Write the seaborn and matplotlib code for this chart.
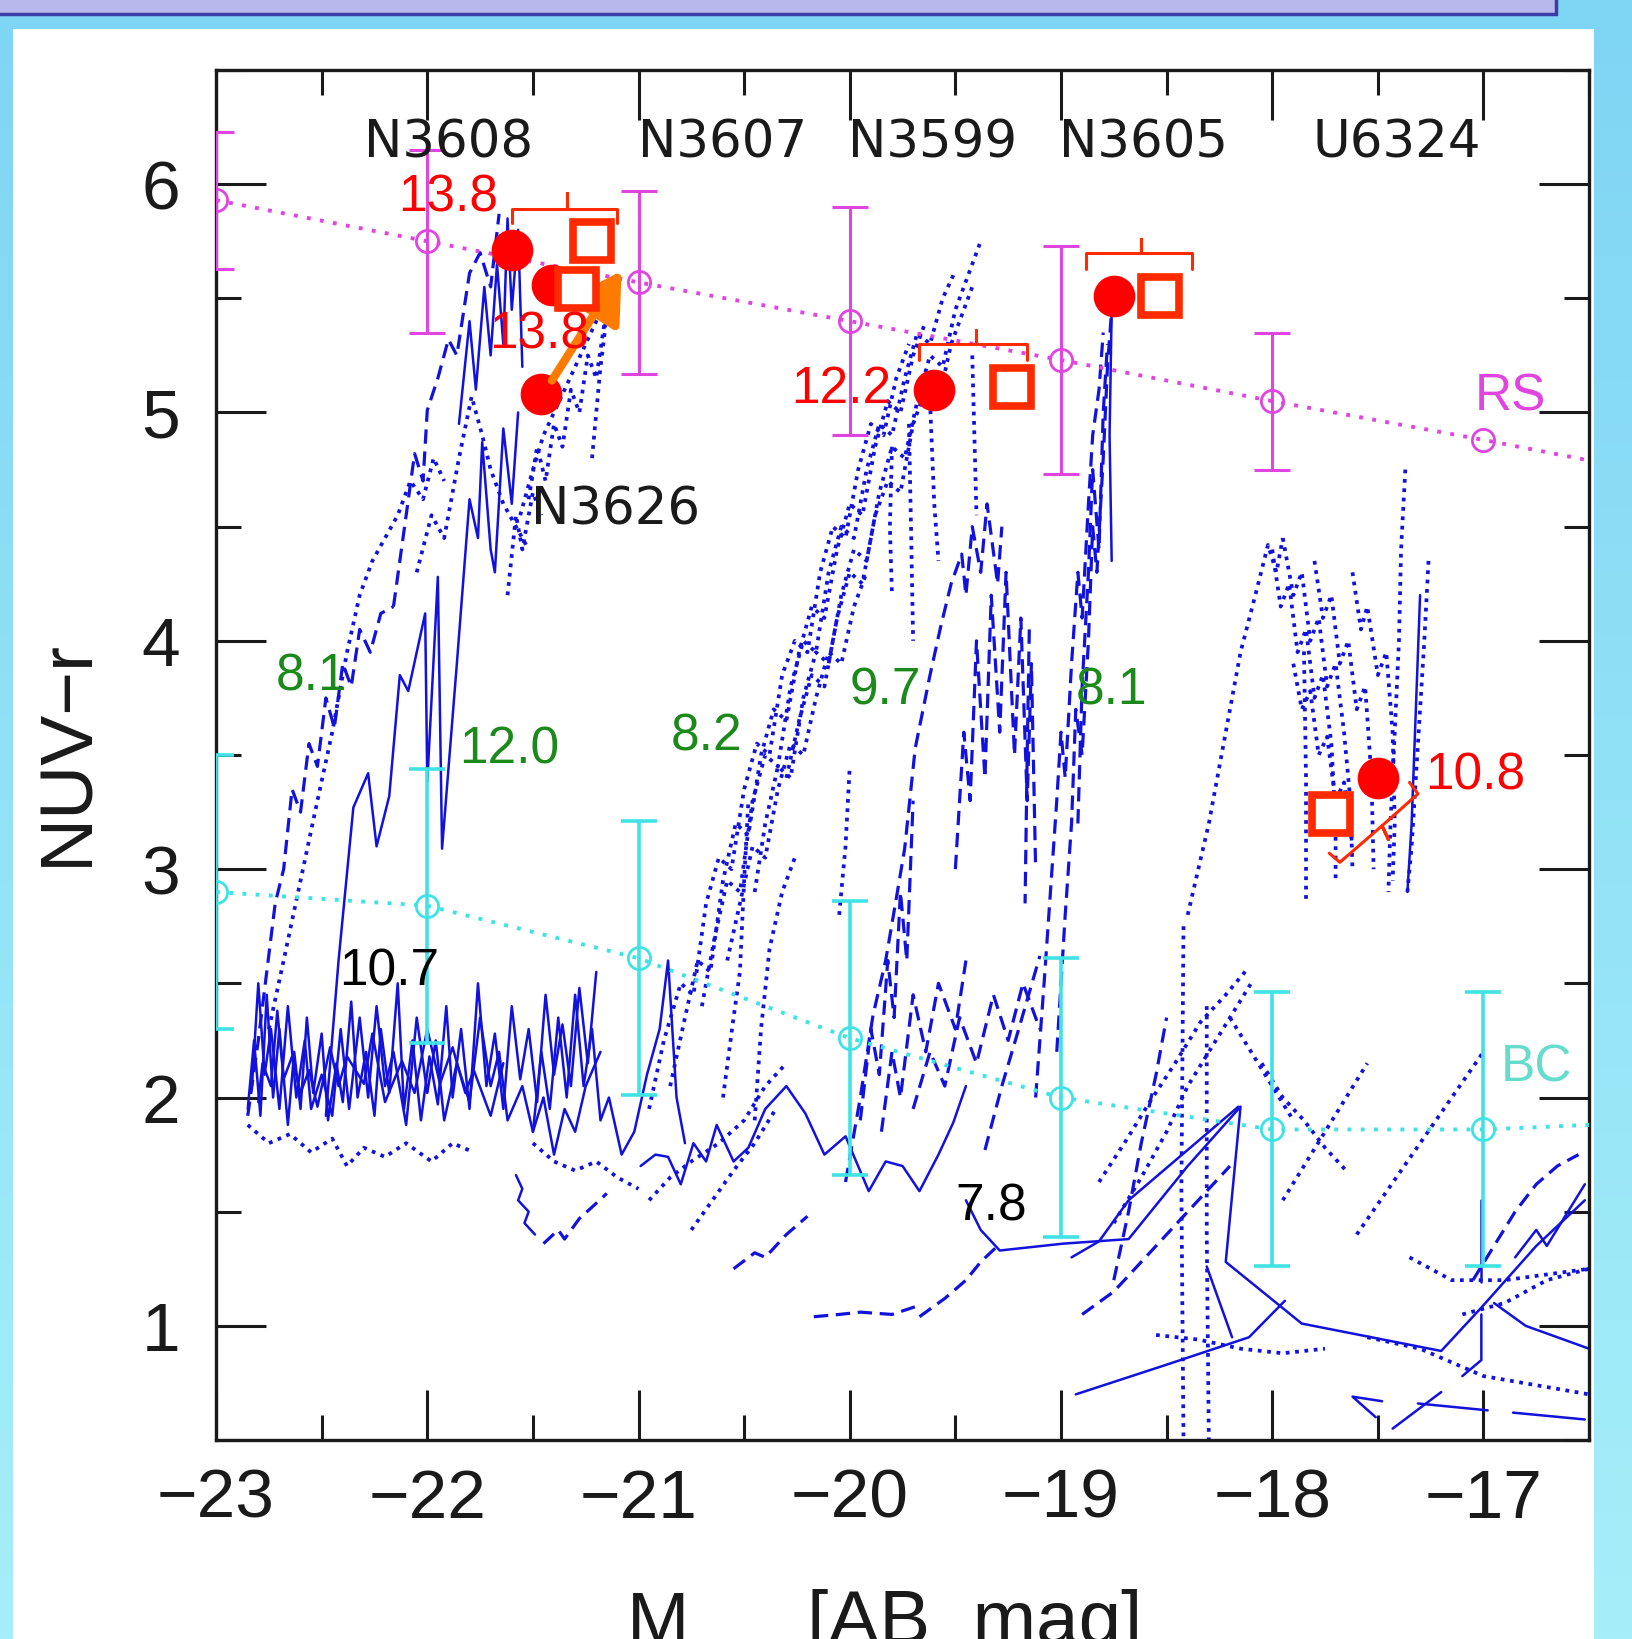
import numpy as np
import pandas as pd
import matplotlib
matplotlib.use("Agg")
import matplotlib.pyplot as plt
import seaborn as sns
from matplotlib.patches import Rectangle

sns.set_theme(style="white")
plt.rcParams['font.family'] = ['Liberation Sans', 'DejaVu Sans']
plt.rcParams['axes.unicode_minus'] = True

BLUE = "#1212dc"
MAGENTA = "#e045e0"
CYAN = "#3fe3e6"
BC_TXT = "#66ddcc"
RED = "#ff0000"
SQ_RED = "#ff2a00"
ORANGE = "#ff7b00"
GREEN = "#1b8a1b"
INK = "#1a1a1a"

# ── reference sequences (RS / BC) ───────────────────────────────────────────
seq_x = [-23, -22, -21, -20, -19, -18, -17]
rs_y = [5.93, 5.75, 5.57, 5.40, 5.23, 5.05, 4.88]
rs_err = [0.30, 0.40, 0.40, 0.50, 0.50, 0.30, 0.0]
rs_edge = (-16.5, 4.79)
bc_y = [2.90, 2.84, 2.61, 2.26, 2.00, 1.86, 1.86]
bc_err = [0.60, 0.60, 0.60, 0.60, 0.61, 0.60, 0.60]
bc_edge = (-16.5, 1.88)

# ── galaxies: red dots (models) and open squares (observed) ────────────────
dot_x = [-21.60, -21.41, -21.46, -19.60, -18.75, -17.50]
dot_y = [5.71, 5.56, 5.08, 5.10, 5.51, 3.40]
sq_x = [-21.22, -21.29, -19.23, -18.53, -17.72]
sq_y = [5.75, 5.54, 5.11, 5.51, 3.24]

names = ["N3608", "N3607", "N3599", "N3605", "U6324"]
names_x = [-21.90, -20.60, -19.61, -18.61, -17.41]
names_y = 6.18

red_labels = ["13.8", "13.8", "12.2", "10.8"]
red_lx = [-21.90, -21.47, -20.04, -17.04]
red_ly = [5.94, 5.34, 5.10, 3.41]
green_labels = ["8.1", "12.0", "8.2", "9.7", "8.1"]
green_lx = [-22.55, -21.61, -20.68, -19.83, -18.76]
green_ly = [3.84, 3.52, 3.58, 3.78, 3.78]
black_labels = ["10.7", "7.8"]
black_lx = [-22.18, -19.33]
black_ly = [2.55, 1.52]

# brackets (red)
bracket_1 = [(-21.60, 5.83), (-21.60, 5.89), (-21.34, 5.89), (-21.34, 5.96), (-21.34, 5.89), (-21.10, 5.89), (-21.10, 5.83)]
bracket_2 = [(-19.67, 5.23), (-19.67, 5.30), (-19.40, 5.30), (-19.40, 5.36), (-19.40, 5.30), (-19.16, 5.30), (-19.16, 5.23)]
bracket_3 = [(-18.88, 5.63), (-18.88, 5.70), (-18.62, 5.70), (-18.62, 5.76), (-18.62, 5.70), (-18.38, 5.70), (-18.38, 5.63)]
bracket_4 = [(-17.73, 3.07), (-17.68, 3.03), (-17.48, 3.19), (-17.45, 3.13), (-17.48, 3.19), (-17.31, 3.33), (-17.35, 3.38)]
arrow_tail = (-21.41, 5.14)
arrow_head = (-21.08, 5.62)

# ── model tracks, solid ─────────────────────────────────────────────────────
s_n3608_rise = [(-22.48, 1.92), (-22.42, 2.60), (-22.35, 3.27), (-22.28, 3.42), (-22.24, 3.10), (-22.18, 3.32),
                (-22.13, 3.85), (-22.09, 3.78), (-22.01, 4.12), (-22.00, 3.38), (-21.95, 4.28), (-21.93, 3.09),
                (-21.86, 3.90), (-21.80, 4.62), (-21.76, 4.45), (-21.74, 4.87), (-21.70, 4.40), (-21.68, 4.30),
                (-21.64, 4.93), (-21.60, 4.60), (-21.57, 5.00)]
s_n3608_top = [(-21.85, 4.95), (-21.80, 5.40), (-21.77, 5.10), (-21.73, 5.55), (-21.70, 5.25), (-21.67, 5.65),
               (-21.64, 5.30), (-21.62, 5.85), (-21.60, 5.45), (-21.57, 5.80), (-21.55, 5.20)]
s_bc_a = [(-22.85, 1.95), (-22.82, 2.25), (-22.79, 1.92), (-22.76, 2.45), (-22.73, 2.00), (-22.70, 2.30),
          (-22.66, 1.88), (-22.63, 2.20), (-22.60, 1.95), (-22.57, 2.35), (-22.54, 2.02), (-22.50, 2.28),
          (-22.47, 1.90), (-22.43, 2.15), (-22.40, 1.98), (-22.36, 2.42), (-22.33, 2.00), (-22.29, 2.20),
          (-22.25, 1.92), (-22.22, 2.30), (-22.18, 2.02), (-22.14, 2.50), (-22.11, 1.95), (-22.07, 2.25),
          (-22.03, 1.90), (-21.99, 2.18), (-21.95, 1.97), (-21.91, 2.40), (-21.88, 2.00), (-21.84, 2.30),
          (-21.80, 1.95), (-21.76, 2.50), (-21.72, 2.05), (-21.68, 2.28), (-21.64, 1.95), (-21.60, 2.40),
          (-21.56, 2.08), (-21.52, 2.30), (-21.48, 1.98), (-21.44, 2.45), (-21.40, 2.10), (-21.36, 2.32),
          (-21.32, 2.05), (-21.28, 2.48), (-21.24, 2.15), (-21.20, 2.55)]
s_bc_b = [(-22.83, 2.05), (-22.80, 2.50), (-22.77, 2.10), (-22.74, 2.30), (-22.70, 1.95), (-22.66, 2.40),
          (-22.62, 2.00), (-22.58, 2.25), (-22.55, 1.95), (-22.50, 2.10), (-22.45, 1.92), (-22.41, 2.30),
          (-22.37, 1.95), (-22.32, 2.35), (-22.28, 2.00), (-22.24, 2.40), (-22.20, 2.05), (-22.16, 2.20),
          (-22.10, 1.88), (-22.05, 2.35), (-22.00, 2.02), (-21.96, 2.25), (-21.92, 1.90), (-21.86, 2.15),
          (-21.80, 1.98), (-21.75, 2.35), (-21.70, 2.05), (-21.66, 2.20), (-21.62, 1.90), (-21.55, 2.05),
          (-21.50, 1.85), (-21.45, 2.00), (-21.40, 1.75), (-21.35, 1.95), (-21.30, 1.85), (-21.25, 2.05),
          (-21.18, 2.20)]
s_bc_c = [(-21.50, 1.85), (-21.46, 2.20), (-21.42, 1.95), (-21.38, 2.35), (-21.34, 2.00), (-21.30, 2.45),
          (-21.26, 2.05), (-21.22, 2.30), (-21.18, 1.90), (-21.14, 2.00), (-21.08, 1.75), (-21.02, 1.85),
          (-20.96, 2.10), (-20.90, 2.30), (-20.86, 2.60), (-20.82, 2.00), (-20.78, 1.80)]
s_bc_d = [(-22.80, 1.98), (-22.78, 2.15), (-22.74, 2.05), (-22.71, 2.38), (-22.68, 2.08), (-22.64, 2.18),
          (-22.60, 2.02), (-22.56, 2.12), (-22.52, 1.96), (-22.46, 2.22), (-22.42, 2.05), (-22.38, 2.18),
          (-22.30, 2.06), (-22.26, 2.28), (-22.20, 1.98), (-22.12, 2.16), (-22.06, 2.02), (-22.00, 2.30),
          (-21.94, 2.06), (-21.88, 2.22), (-21.82, 2.02), (-21.78, 2.12), (-21.70, 1.92), (-21.64, 2.15)]
s_squiggle = [(-21.58, 1.66), (-21.55, 1.60), (-21.57, 1.55), (-21.52, 1.50), (-21.54, 1.45), (-21.49, 1.40)]
s_mid_low = [(-20.99, 1.70), (-20.92, 1.75), (-20.86, 1.74), (-20.80, 1.62), (-20.74, 1.80), (-20.68, 1.72),
             (-20.63, 1.88), (-20.55, 1.72), (-20.48, 1.78), (-20.40, 1.95), (-20.30, 2.05), (-20.21, 1.93),
             (-20.12, 1.75), (-20.02, 1.83), (-19.91, 1.59), (-19.83, 1.72), (-19.75, 1.70), (-19.67, 1.59),
             (-19.58, 1.75), (-19.51, 1.89), (-19.45, 2.05)]
s_right_low = [(-19.45, 1.55), (-19.38, 1.42), (-19.29, 1.33), (-18.99, 1.36), (-18.68, 1.38), (-18.40, 1.70),
               (-18.15, 1.96), (-18.22, 1.28), (-17.86, 1.01), (-17.20, 0.89), (-17.01, 1.08), (-16.75, 1.35),
               (-16.52, 1.55)]
s_long_low = [(-18.93, 0.70), (-18.50, 0.83), (-18.11, 0.95), (-17.94, 1.11)]
s_diag = [(-18.95, 1.30), (-18.82, 1.37), (-18.68, 1.55), (-18.16, 1.96)]
s_short = [(-18.31, 1.26), (-18.19, 0.95)]
s_vert = [(-17.01, 1.55), (-17.01, 1.19)]
s_vert2 = [(-17.01, 1.05), (-17.01, 0.85), (-17.10, 0.78)]
s_angle = [(-17.48, 0.67), (-17.62, 0.69), (-17.51, 0.60)]
s_cross = [(-17.43, 0.55), (-17.20, 0.71)]
s_flat = [(-17.31, 0.66), (-16.98, 0.63)]
s_flat2 = [(-16.86, 0.62), (-16.52, 0.59)]
s_n3605 = [(-18.76, 4.35), (-18.77, 4.90), (-18.76, 5.45)]
s_u6324 = [(-17.30, 4.20), (-17.32, 3.70), (-17.34, 3.20), (-17.36, 2.90)]
s_edge_a = [(-16.85, 1.30), (-16.75, 1.42), (-16.70, 1.35), (-16.60, 1.50), (-16.52, 1.62)]
s_edge_b = [(-16.95, 1.10), (-16.80, 1.00), (-16.65, 0.95), (-16.50, 0.90)]

# ── model tracks, dashed ────────────────────────────────────────────────────
d_n3608_low = [(-22.85, 1.92), (-22.80, 2.25), (-22.76, 2.55), (-22.72, 2.85), (-22.68, 3.00), (-22.64, 3.35),
               (-22.60, 3.25), (-22.56, 3.55), (-22.52, 3.45), (-22.48, 3.75), (-22.44, 3.62), (-22.40, 3.90),
               (-22.36, 3.80), (-22.32, 4.05), (-22.27, 3.95), (-22.22, 4.12), (-22.16, 4.15)]
d_n3608_high = [(-22.16, 4.15), (-22.10, 4.55), (-22.06, 4.82), (-22.02, 4.70), (-22.00, 5.01), (-21.95, 5.15),
                (-21.90, 5.32), (-21.86, 5.25), (-21.80, 5.61), (-21.75, 5.70), (-21.70, 5.55), (-21.66, 5.87)]
d_low_a = [(-21.45, 1.36), (-21.38, 1.42), (-21.35, 1.38), (-21.28, 1.47), (-21.22, 1.52), (-21.15, 1.58)]
d_low_b = [(-20.55, 1.25), (-20.45, 1.32), (-20.40, 1.30), (-20.30, 1.40), (-20.20, 1.48)]
d_low_c = [(-20.17, 1.04), (-20.05, 1.05), (-19.95, 1.06), (-19.80, 1.05), (-19.67, 1.09)]
d_low_d = [(-19.67, 1.04), (-19.55, 1.12), (-19.45, 1.20), (-19.38, 1.28), (-19.30, 1.35)]
d_low_e = [(-18.90, 1.05), (-18.75, 1.15), (-18.60, 1.30), (-18.45, 1.45), (-18.30, 1.60), (-18.20, 1.70)]
d_low_f = [(-18.75, 1.20), (-18.68, 1.50), (-18.62, 1.80), (-18.55, 2.10), (-18.50, 2.35)]
d_n3599_a = [(-20.02, 1.63), (-19.95, 2.00), (-19.89, 2.36), (-19.83, 2.60), (-19.78, 2.87), (-19.74, 3.09),
             (-19.69, 3.53), (-19.62, 3.85), (-19.57, 4.06), (-19.52, 4.25), (-19.47, 4.38), (-19.45, 4.20),
             (-19.42, 4.50), (-19.38, 4.30), (-19.35, 4.60), (-19.30, 4.25), (-19.28, 4.50)]
d_n3599_b = [(-19.50, 3.00), (-19.46, 3.60), (-19.43, 3.30), (-19.40, 4.00), (-19.36, 3.40), (-19.33, 4.20),
             (-19.29, 3.60), (-19.26, 4.30), (-19.22, 3.50), (-19.19, 4.10), (-19.16, 3.30), (-19.14, 3.90),
             (-19.12, 3.00)]
d_n3599_c = [(-19.15, 4.05), (-19.16, 3.50), (-19.17, 2.85)]
d_n3599_d = [(-19.95, 1.90), (-19.90, 2.30), (-19.86, 2.10), (-19.82, 2.60), (-19.79, 2.35), (-19.76, 2.90),
             (-19.73, 2.60), (-19.70, 3.30)]
d_n3599_e = [(-19.85, 1.85), (-19.80, 2.20), (-19.76, 2.00), (-19.70, 2.45), (-19.64, 2.20), (-19.58, 2.50),
             (-19.50, 2.30), (-19.45, 2.60)]
d_n3599_f = [(-19.70, 1.95), (-19.62, 2.20), (-19.55, 2.05), (-19.48, 2.35), (-19.40, 2.15), (-19.32, 2.45),
             (-19.25, 2.25), (-19.18, 2.50), (-19.10, 2.30)]
d_n3599_g = [(-19.36, 1.77), (-19.28, 2.05), (-19.20, 2.30), (-19.10, 2.62)]
d_n3605_a = [(-19.12, 2.00), (-19.08, 2.50), (-19.05, 2.90), (-19.02, 3.30), (-19.00, 3.60), (-18.98, 3.40),
             (-18.95, 3.90), (-18.92, 4.30), (-18.90, 4.10), (-18.87, 4.60), (-18.85, 4.90), (-18.82, 5.10),
             (-18.80, 5.35)]
d_n3605_b = [(-19.02, 2.20), (-18.98, 2.80), (-18.95, 3.20), (-18.93, 3.70), (-18.90, 3.50), (-18.87, 4.00),
             (-18.85, 4.50), (-18.83, 4.30), (-18.80, 4.80), (-18.78, 5.20), (-18.76, 5.45)]
d_n3605_c = [(-18.92, 3.20), (-18.90, 3.80), (-18.87, 4.30), (-18.85, 4.75), (-18.82, 4.40), (-18.80, 5.00),
             (-18.78, 5.30)]
d_edge = [(-17.05, 1.20), (-16.95, 1.35), (-16.85, 1.50), (-16.75, 1.62), (-16.65, 1.70), (-16.55, 1.75)]

# ── model tracks, dotted ────────────────────────────────────────────────────
o_n3608_a = [(-22.75, 2.30), (-22.68, 2.60), (-22.60, 2.95), (-22.52, 3.30), (-22.45, 3.60), (-22.38, 3.95),
             (-22.32, 4.20), (-22.26, 4.35), (-22.20, 4.45), (-22.14, 4.55), (-22.08, 4.70), (-22.02, 4.62),
             (-21.97, 4.80), (-21.92, 4.70)]
o_n3608_b = [(-22.05, 4.30), (-21.98, 4.55), (-21.92, 4.45), (-21.85, 4.80), (-21.79, 5.07), (-21.74, 4.90),
             (-21.70, 4.75), (-21.64, 4.60), (-21.58, 4.50), (-21.52, 4.40)]
o_n3626_a = [(-21.56, 4.55), (-21.50, 4.75), (-21.45, 4.90), (-21.40, 5.00), (-21.35, 5.10), (-21.30, 5.20),
             (-21.25, 5.30), (-21.20, 5.40), (-21.15, 5.50)]
o_n3626_b = [(-21.52, 4.62), (-21.48, 4.85), (-21.44, 4.70), (-21.40, 4.95), (-21.36, 4.85), (-21.32, 5.10),
             (-21.28, 5.00), (-21.24, 5.25), (-21.20, 5.15), (-21.16, 5.40)]
o_n3626_c = [(-21.22, 4.80), (-21.20, 5.00), (-21.18, 5.20), (-21.16, 5.35), (-21.15, 5.50)]
o_n3626_d = [(-21.62, 4.20), (-21.58, 4.55), (-21.55, 4.40), (-21.50, 4.65), (-21.46, 4.55)]
o_base_a = [(-22.85, 1.88), (-22.75, 1.80), (-22.65, 1.84), (-22.55, 1.76), (-22.45, 1.82), (-22.38, 1.70),
            (-22.30, 1.78), (-22.20, 1.74), (-22.10, 1.80), (-21.98, 1.72), (-21.88, 1.80), (-21.78, 1.76)]
o_base_b = [(-21.50, 1.80), (-21.40, 1.72), (-21.30, 1.68), (-21.20, 1.72), (-21.10, 1.65), (-21.00, 1.60)]
o_base_c = [(-20.95, 1.55), (-20.85, 1.65), (-20.75, 1.72), (-20.62, 1.80), (-20.50, 1.90), (-20.40, 2.05),
            (-20.30, 2.15)]
o_base_d = [(-20.75, 1.42), (-20.65, 1.55), (-20.55, 1.68), (-20.45, 1.80), (-20.35, 1.95)]
o_band_a = [(-20.95, 1.95), (-20.88, 2.25), (-20.80, 2.50), (-20.74, 2.45), (-20.68, 2.85), (-20.62, 3.05),
            (-20.56, 3.00), (-20.50, 3.35), (-20.44, 3.55), (-20.38, 3.50), (-20.32, 3.85), (-20.26, 4.00),
            (-20.20, 3.95), (-20.14, 4.30), (-20.08, 4.50), (-20.02, 4.45), (-19.96, 4.75), (-19.90, 4.95),
            (-19.84, 4.90), (-19.78, 5.15), (-19.72, 5.30)]
o_band_b = [(-20.85, 2.05), (-20.78, 2.35), (-20.72, 2.60), (-20.66, 2.55), (-20.60, 2.95), (-20.54, 3.20),
            (-20.48, 3.15), (-20.42, 3.50), (-20.36, 3.70), (-20.30, 3.65), (-20.24, 3.95), (-20.18, 4.15),
            (-20.12, 4.10), (-20.06, 4.40), (-20.00, 4.60), (-19.94, 4.55), (-19.88, 4.85), (-19.82, 5.05),
            (-19.76, 5.00), (-19.70, 5.25), (-19.64, 5.40)]
o_band_c = [(-20.70, 2.40), (-20.64, 2.70), (-20.58, 2.95), (-20.52, 2.90), (-20.46, 3.30), (-20.40, 3.50),
            (-20.34, 3.45), (-20.28, 3.80), (-20.22, 4.00), (-20.16, 3.95), (-20.10, 4.30), (-20.04, 4.50),
            (-19.98, 4.45), (-19.92, 4.75), (-19.86, 4.95), (-19.80, 4.90), (-19.74, 5.15), (-19.68, 5.35),
            (-19.62, 5.30), (-19.56, 5.50), (-19.50, 5.62)]
o_band_d = [(-20.45, 2.90), (-20.40, 3.20), (-20.34, 3.45), (-20.28, 3.40), (-20.22, 3.75), (-20.16, 3.95),
            (-20.10, 3.90), (-20.04, 4.20), (-19.98, 4.40), (-19.92, 4.35), (-19.86, 4.65), (-19.80, 4.85),
            (-19.74, 4.80), (-19.68, 5.05), (-19.62, 5.25), (-19.56, 5.20), (-19.50, 5.45), (-19.44, 5.60),
            (-19.38, 5.75)]
o_band_e = [(-20.30, 3.40), (-20.24, 3.65), (-20.18, 3.85), (-20.12, 3.80), (-20.06, 4.10), (-20.00, 4.30),
            (-19.94, 4.25), (-19.88, 4.55), (-19.82, 4.70), (-19.76, 4.65), (-19.70, 4.95), (-19.64, 5.10),
            (-19.58, 5.05), (-19.52, 5.30), (-19.46, 5.45), (-19.42, 5.55)]
o_band_f = [(-20.60, 2.00), (-20.55, 2.35), (-20.52, 2.55), (-20.50, 2.95), (-20.48, 3.30)]
o_band_g = [(-20.45, 1.90), (-20.42, 2.30), (-20.38, 2.65), (-20.32, 2.90), (-20.26, 3.05)]
o_band_h = [(-20.05, 2.80), (-20.02, 3.10), (-20.00, 3.45)]
o_band_i = [(-20.58, 2.60), (-20.52, 2.85), (-20.46, 3.10), (-20.40, 3.05), (-20.34, 3.35), (-20.28, 3.55),
            (-20.22, 3.50), (-20.16, 3.75), (-20.10, 3.95), (-20.04, 3.90), (-19.98, 4.15), (-19.92, 4.30)]
o_tail_a = [(-19.80, 4.85), (-19.81, 4.50), (-19.80, 4.20)]
o_tail_b = [(-19.62, 5.05), (-19.60, 4.60), (-19.58, 4.35)]
o_tail_c = [(-19.42, 5.25), (-19.41, 4.90), (-19.40, 4.55)]
o_tail_d = [(-19.72, 4.95), (-19.71, 4.50), (-19.70, 4.00)]
o_u6324_a = [(-18.40, 2.80), (-18.30, 3.20), (-18.22, 3.60), (-18.15, 3.95), (-18.08, 4.20), (-18.02, 4.42),
             (-17.98, 4.30), (-17.95, 4.45)]
o_u6324_b = [(-18.00, 4.40), (-17.96, 4.15), (-17.92, 4.25), (-17.88, 3.95), (-17.84, 4.05), (-17.80, 3.75),
             (-17.76, 3.85), (-17.72, 3.55), (-17.70, 3.20), (-17.70, 2.95)]
o_u6324_c = [(-17.95, 4.45), (-17.90, 4.20), (-17.86, 4.30), (-17.82, 4.00), (-17.78, 4.10), (-17.74, 3.80),
             (-17.70, 3.90), (-17.66, 3.60), (-17.63, 3.30), (-17.62, 3.00)]
o_u6324_d = [(-17.80, 4.35), (-17.76, 4.10), (-17.72, 4.20), (-17.68, 3.90), (-17.64, 4.00), (-17.60, 3.70),
             (-17.56, 3.80), (-17.53, 3.40), (-17.52, 3.00)]
o_u6324_e = [(-17.62, 4.30), (-17.58, 4.05), (-17.55, 4.15), (-17.50, 3.85), (-17.46, 3.95), (-17.43, 3.60),
             (-17.42, 3.20), (-17.43, 2.95)]
o_u6324_f = [(-17.37, 4.75), (-17.39, 4.40), (-17.40, 4.00), (-17.42, 3.60), (-17.44, 3.20), (-17.45, 2.90)]
o_u6324_g = [(-17.26, 4.35), (-17.28, 4.00), (-17.30, 3.70), (-17.32, 3.40), (-17.34, 3.10), (-17.36, 2.90)]
o_u6324_h = [(-17.84, 2.87), (-17.84, 3.40), (-17.85, 3.97)]
o_u6324_i = [(-17.90, 3.90), (-17.86, 3.70), (-17.82, 3.78), (-17.78, 3.50), (-17.74, 3.58), (-17.70, 3.30),
             (-17.66, 3.38), (-17.62, 3.10)]
o_bc_a = [(-18.82, 1.63), (-18.70, 1.80), (-18.58, 1.98), (-18.46, 2.15), (-18.34, 2.33), (-18.22, 2.45),
          (-18.12, 2.56)]
o_bc_b = [(-18.75, 1.45), (-18.62, 1.65), (-18.50, 1.85), (-18.40, 2.05), (-18.30, 2.20), (-18.20, 2.35),
          (-18.10, 2.50)]
o_bc_c = [(-18.05, 2.15), (-17.95, 2.00), (-17.85, 1.90), (-17.75, 1.78), (-17.65, 1.68)]
o_bc_d = [(-17.95, 1.55), (-17.85, 1.70), (-17.75, 1.85), (-17.65, 2.00), (-17.55, 2.15)]
o_bc_e = [(-17.60, 1.40), (-17.45, 1.60), (-17.30, 1.80), (-17.15, 2.00), (-17.00, 2.20)]
o_bc_f = [(-18.55, 0.96), (-18.35, 0.94), (-18.15, 0.90), (-17.95, 0.88), (-17.75, 0.90)]
o_bc_g = [(-18.20, 2.35), (-18.10, 2.20), (-18.00, 2.05), (-17.90, 1.90)]
o_vline_a = [(-18.42, 2.75), (-18.43, 1.60), (-18.42, 0.50)]
o_vline_b = [(-18.31, 2.40), (-18.31, 1.40), (-18.30, 0.50)]
o_floor_a = [(-17.55, 0.95), (-17.30, 0.90), (-17.00, 0.78), (-16.75, 0.74), (-16.50, 0.70)]
o_floor_b = [(-17.35, 1.30), (-17.15, 1.20), (-16.90, 1.20), (-16.50, 1.25)]
o_floor_c = [(-17.10, 1.05), (-16.90, 1.10), (-16.70, 1.20), (-16.50, 1.25)]

solid_tracks = [s_n3608_rise, s_n3608_top, s_bc_a, s_bc_b, s_bc_c, s_bc_d, s_squiggle, s_mid_low, s_right_low,
                s_long_low, s_diag, s_short, s_vert, s_vert2, s_angle, s_cross, s_flat, s_flat2, s_n3605,
                s_u6324, s_edge_a, s_edge_b]
dashed_tracks = [d_n3608_low, d_n3608_high, d_low_a, d_low_b, d_low_c, d_low_d, d_low_e, d_low_f,
                 d_n3599_a, d_n3599_b, d_n3599_c, d_n3599_d, d_n3599_e, d_n3599_f, d_n3599_g,
                 d_n3605_a, d_n3605_b, d_n3605_c, d_edge]
dotted_tracks = [o_n3608_a, o_n3608_b, o_n3626_a, o_n3626_b, o_n3626_c, o_n3626_d, o_base_a, o_base_b,
                 o_base_c, o_base_d, o_band_a, o_band_b, o_band_c, o_band_d, o_band_e, o_band_f, o_band_g,
                 o_band_h, o_band_i, o_tail_a, o_tail_b, o_tail_c, o_tail_d, o_u6324_a, o_u6324_b, o_u6324_c,
                 o_u6324_d, o_u6324_e, o_u6324_f, o_u6324_g, o_u6324_h, o_u6324_i, o_bc_a, o_bc_b, o_bc_c,
                 o_bc_d, o_bc_e, o_bc_f, o_bc_g, o_vline_a, o_vline_b, o_floor_a, o_floor_b, o_floor_c]


def tracks_frame(tracks):
    rows = []
    for i, trk in enumerate(tracks):
        for j, (x, y) in enumerate(trk):
            rows.append({"track": i, "order": j, "x": x, "y": y})
    return pd.DataFrame(rows)


# ── figure & slide background ───────────────────────────────────────────────
fig = plt.figure(figsize=(16.33, 16.39), dpi=100)
bg = fig.add_axes([0, 0, 1, 1], zorder=-10)
grad = np.linspace(0, 1, 256).reshape(-1, 1)
bg.imshow(grad, extent=[0, 1, 0, 1], aspect="auto", origin="upper",
          cmap=matplotlib.colors.LinearSegmentedColormap.from_list("bgc", ["#7fd5f4", "#a6eff9"]))
bg.add_patch(Rectangle((0.0077, 0.0), 0.9685, 0.9823, facecolor="white", edgecolor="none"))
bg.add_patch(Rectangle((-0.01, 0.9915), 0.963, 0.02, facecolor="#b8b8ec", edgecolor="#3c3ca6", lw=2.5))
bg.set_xlim(0, 1)
bg.set_ylim(0, 1)
bg.axis("off")

ax = fig.add_axes([0.1323, 0.1214, 0.8408, 0.8359])
ax.set_facecolor("white")

# model tracks
sns.lineplot(data=tracks_frame(solid_tracks), x="x", y="y", units="track", estimator=None, sort=False,
             color=BLUE, lw=1.8, ax=ax, zorder=2)
sns.lineplot(data=tracks_frame(dashed_tracks), x="x", y="y", units="track", estimator=None, sort=False,
             color=BLUE, lw=2.3, linestyle=(0, (4.5, 2.4)), ax=ax, zorder=2)
sns.lineplot(data=tracks_frame(dotted_tracks), x="x", y="y", units="track", estimator=None, sort=False,
             color=BLUE, lw=2.7, linestyle=(0, (1, 1.5)), ax=ax, zorder=2)

# red sequence and blue cloud
rs_df = pd.DataFrame({"x": seq_x + [rs_edge[0]], "y": rs_y + [rs_edge[1]]})
bc_df = pd.DataFrame({"x": seq_x + [bc_edge[0]], "y": bc_y + [bc_edge[1]]})
sns.lineplot(data=rs_df, x="x", y="y", color=MAGENTA, lw=2.8, linestyle=(0, (1, 2.4)), ax=ax, zorder=3)
sns.lineplot(data=bc_df, x="x", y="y", color=CYAN, lw=2.8, linestyle=(0, (1, 2.4)), ax=ax, zorder=3)
rs_mask = np.array(rs_err) > 0
ax.errorbar(np.array(seq_x)[rs_mask], np.array(rs_y)[rs_mask], yerr=np.array(rs_err)[rs_mask], fmt="none",
            ecolor=MAGENTA, elinewidth=2.2, capsize=13, capthick=2.2, zorder=3)
ax.errorbar(seq_x, bc_y, yerr=bc_err, fmt="none", ecolor=CYAN, elinewidth=2.6, capsize=13, capthick=2.6, zorder=3)
ax.plot(seq_x, rs_y, "o", ms=16, mfc="none", mec=MAGENTA, mew=2.0, zorder=3)
ax.plot(seq_x, bc_y, "o", ms=16, mfc="none", mec=CYAN, mew=2.0, zorder=3)

# brackets, arrow, galaxies
for br in [bracket_1, bracket_2, bracket_3, bracket_4]:
    bx, by = zip(*br)
    ax.plot(bx, by, color=SQ_RED, lw=2.2, solid_joinstyle="round", zorder=4)
ax.plot(dot_x, dot_y, "o", ms=30, color=RED, mec="none", zorder=5)
ax.annotate("", xy=arrow_head, xytext=arrow_tail, zorder=6,
            arrowprops=dict(arrowstyle="-|>,head_length=1.2,head_width=0.7", mutation_scale=25,
                            color=ORANGE, lw=6, shrinkA=0, shrinkB=0))
ax.plot(sq_x, sq_y, "s", ms=27, mfc="white", mec=SQ_RED, mew=5.5, zorder=7)

# text labels
for t, x in zip(names, names_x):
    ax.text(x, names_y, t, fontsize=37, color=INK, ha="center", va="center", family="DejaVu Sans", zorder=8)
ax.text(-21.11, 4.57, "N3626", fontsize=37, color=INK, ha="center", va="center", family="DejaVu Sans", zorder=8)
for t, x, y in zip(red_labels, red_lx, red_ly):
    ax.text(x, y, t, fontsize=37, color=RED, ha="center", va="center", zorder=8)
for t, x, y in zip(green_labels, green_lx, green_ly):
    ax.text(x, y, t, fontsize=37, color=GREEN, ha="center", va="center", zorder=8)
for t, x, y in zip(black_labels, black_lx, black_ly):
    ax.text(x, y, t, fontsize=37, color="black", ha="center", va="center", zorder=8)
ax.text(-16.87, 5.07, "RS", fontsize=37, color=MAGENTA, ha="center", va="center", zorder=8)
ax.text(-16.75, 2.13, "BC", fontsize=37, color=BC_TXT, ha="center", va="center", zorder=8)

# axes
ax.set_xlim(-23, -16.5)
ax.set_ylim(0.5, 6.5)
ax.set_xticks(seq_x)
ax.set_yticks([1, 2, 3, 4, 5, 6])
ax.set_xticks(np.arange(-23, -16.4, 0.5), minor=True)
ax.set_yticks(np.arange(0.5, 6.6, 0.5), minor=True)
ax.tick_params(which="both", direction="in", bottom=True, left=True, top=True, right=True,
               width=2.2, color=INK)
ax.tick_params(which="major", length=36, labelsize=50, labelcolor=INK)
ax.tick_params(which="minor", length=18)
ax.tick_params(axis="x", which="major", pad=20)
ax.tick_params(axis="y", which="major", pad=26)
for sp in ax.spines.values():
    sp.set_linewidth(2.4)
    sp.set_color(INK)
ax.set_xlabel("")
ax.set_ylabel("")

fig.text(0.0416, 0.5406, "NUV\u2212r", rotation=90, fontsize=54, ha="center", va="center", color=INK)
fig.text(0.403, -0.003, "M", fontsize=54, ha="center", va="baseline", color=INK)
fig.text(0.420, -0.026, "r", fontsize=36, ha="center", va="baseline", color=INK)
fig.text(0.597, -0.003, "[AB  mag]", fontsize=55, ha="center", va="baseline", color=INK)

fig.savefig("out.png", dpi=100)
